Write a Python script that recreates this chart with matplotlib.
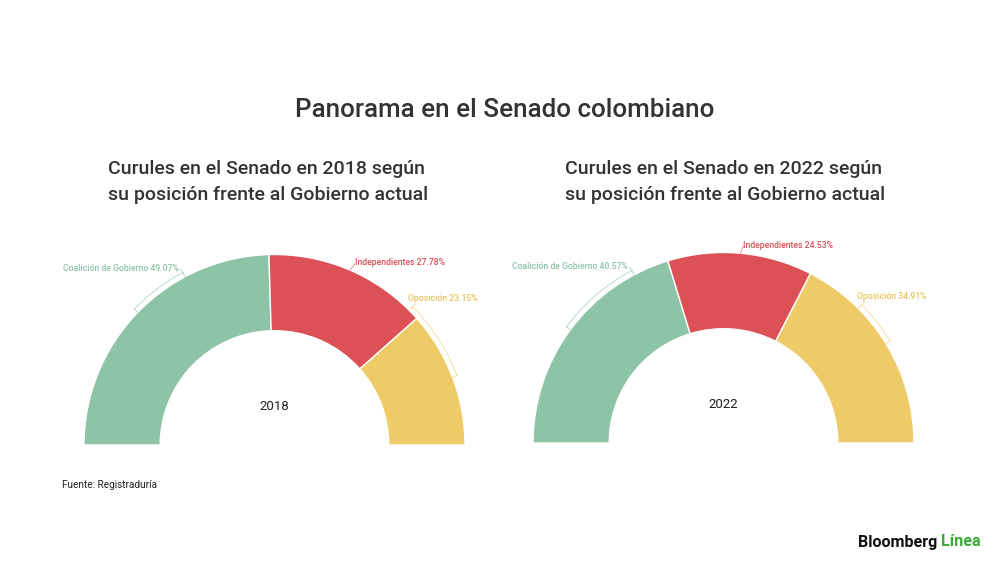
import numpy as np
import matplotlib
matplotlib.use("Agg")
import matplotlib.pyplot as plt

plt.rcParams['font.family'] = ['Roboto', 'DejaVu Sans']

# datos
categorias = ["Coalición de Gobierno", "Independientes", "Oposición"]
valores_2018 = [49.07, 27.78, 23.15]
valores_2022 = [40.57, 24.53, 34.91]
anios = ["2018", "2022"]
colores = ["#8DC3A7", "#DB5155", "#EFCB68"]
colores_texto = ["#8DC3A7", "#D94F55", "#E8C35A"]

W, H = 1000, 562
fig = plt.figure(figsize=(W / 100, H / 100), dpi=100)
fig.patch.set_facecolor("white")


def px(x, y):
    return x / W, 1 - y / H


# angulo de la etiqueta (grados) para cada categoria; None = centro del sector
angulo_etiqueta = [118, None, 45]
ajuste_y = [-0.02, -0.018, 0.008]


def semi_donut(cx, cy, r, valores, anio):
    ax = fig.add_axes([(cx - r) / W, (H - cy - r) / H, 2 * r / W, 2 * r / H])
    total = sum(valores)
    wedges, _ = ax.pie(valores + [total], startangle=180, counterclock=False,
                       colors=colores + ["white"], radius=1,
                       wedgeprops=dict(width=0.4, edgecolor="white", linewidth=1))
    wedges[-1].set_visible(False)
    ax.set_xlim(-1, 1)
    ax.set_ylim(-1, 1)
    ax.set_aspect("equal")
    ax.axis("off")
    ax.text(0, 0.2, anio, ha="center", va="center", fontsize=9.5, color="#222222")

    acum = 0
    for i, v in enumerate(valores):
        a0 = 180 - acum / total * 180
        a1 = 180 - (acum + v) / total * 180
        acum += v
        mid = (a0 + a1) / 2
        lab = angulo_etiqueta[i] if angulo_etiqueta[i] is not None else mid
        rb = 1.025
        estilo = dict(color=colores[i], lw=0.7, alpha=0.6, clip_on=False)
        if abs(lab - mid) > 1:
            t = np.radians(np.linspace(mid, lab, 40))
            ax.plot(rb * np.cos(t), rb * np.sin(t), **estilo)
            for a in (mid, lab):
                ar = np.radians(a)
                ax.plot([1.0 * np.cos(ar), rb * np.cos(ar)],
                        [1.0 * np.sin(ar), rb * np.sin(ar)], **estilo)
            ar = np.radians(lab)
            x0, y0 = rb * np.cos(ar), rb * np.sin(ar)
            x1, y1 = 1.045 * np.cos(ar), 1.045 * np.sin(ar)
            dx = -0.01 if lab > 90 else -0.04
        else:
            ar = np.radians(lab)
            x0, y0 = 1.0 * np.cos(ar), 1.0 * np.sin(ar)
            x1, y1 = 1.035 * np.cos(ar) + 0.012, 1.035 * np.sin(ar)
            dx = 0.0
        ax.plot([x0, x1], [y0, y1], **estilo)
        ha = "right" if lab > 90 else "left"
        ax.text(x1 + dx, y1 + ajuste_y[i], f"{categorias[i]} {v:.2f}%", ha=ha,
                va="bottom", fontsize=6.2, fontweight="medium",
                color=colores_texto[i])


semi_donut(274.5, 445, 190.5, valores_2018, anios[0])
semi_donut(723.5, 443, 190.5, valores_2022, anios[1])

fig.text(*px(505, 110), "Panorama en el Senado colombiano", ha="center",
         va="center", fontsize=18.7, fontweight="medium", color="#333333")
for x, anio in [(108, anios[0]), (565, anios[1])]:
    fig.text(*px(x, 182), f"Curules en el Senado en {anio} según\nsu posición frente al Gobierno actual",
             ha="left", va="center", fontsize=14, fontweight="medium",
             color="#333333", linespacing=1.6)

fig.text(*px(62, 485), "Fuente: Registraduría", ha="left", va="center",
         fontsize=7.2, color="#222222")

fig.text(*px(937, 542), "Bloomberg", ha="right", va="center", fontsize=11.6,
         fontweight="bold", color="#111111")
fig.text(*px(941, 542), "Línea", ha="left", va="center", fontsize=11.6,
         fontweight="bold", color="#3DAA3A")

fig.savefig("out.png", dpi=100, facecolor="white")
